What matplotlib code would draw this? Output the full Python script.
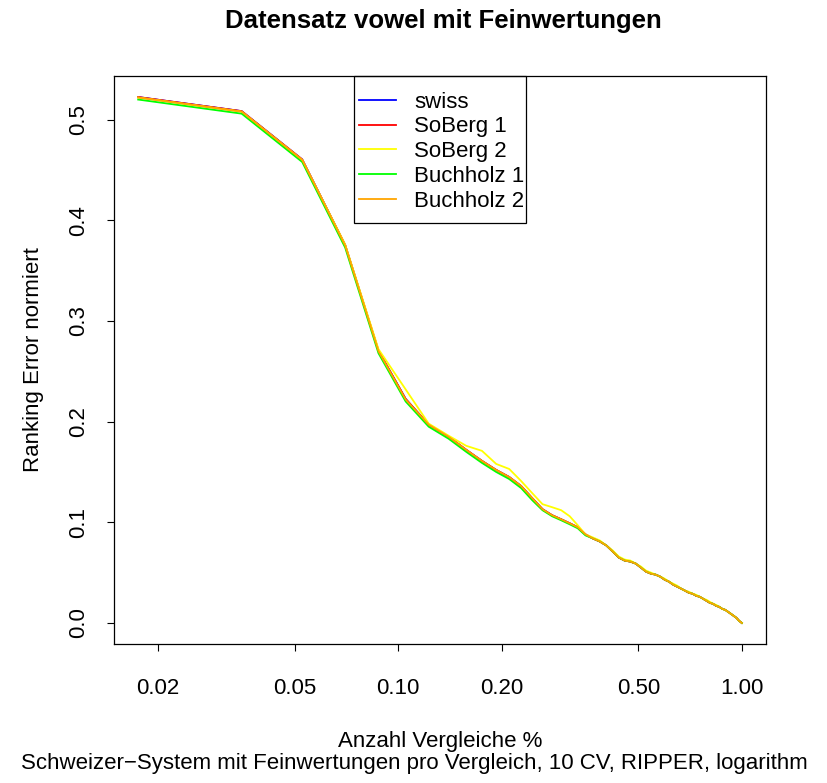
import numpy as np
import matplotlib
matplotlib.use("Agg")
import matplotlib.pyplot as plt
from matplotlib.patches import Rectangle
from matplotlib.ticker import FixedLocator, NullLocator

plt.rcParams['font.family'] = ['Liberation Sans', 'DejaVu Sans']

# share of comparisons: k out of 57
n_comp = 57
steps = np.arange(1, n_comp + 1)

buchholz2 = [0.522, 0.508, 0.460, 0.375, 0.270, 0.222, 0.197, 0.185, 0.172, 0.161,
             0.152, 0.145, 0.136, 0.124, 0.113, 0.107, 0.103, 0.099, 0.095, 0.088,
             0.084, 0.081, 0.077, 0.071, 0.065, 0.062, 0.061, 0.059, 0.055, 0.051,
             0.049, 0.048, 0.046, 0.043, 0.041, 0.038, 0.036, 0.034, 0.032, 0.030,
             0.029, 0.027, 0.026, 0.024, 0.022, 0.020, 0.019, 0.017, 0.016, 0.014,
             0.013, 0.011, 0.009, 0.007, 0.005, 0.002, 0.000]
soberg1 = [0.5225, 0.5085, 0.4605, 0.3755, 0.2705, 0.2225, 0.197, 0.185, 0.172, 0.161,
           0.152, 0.145, 0.136, 0.124, 0.113, 0.107, 0.103, 0.099, 0.095, 0.088,
           0.084, 0.081, 0.077, 0.071, 0.065, 0.062, 0.061, 0.059, 0.055, 0.051,
           0.049, 0.048, 0.046, 0.043, 0.041, 0.038, 0.036, 0.034, 0.032, 0.030,
           0.029, 0.027, 0.026, 0.024, 0.022, 0.020, 0.019, 0.017, 0.016, 0.014,
           0.013, 0.011, 0.009, 0.007, 0.005, 0.002, 0.000]
swiss = list(soberg1)
soberg2 = [0.522, 0.508, 0.460, 0.376, 0.272, 0.232, 0.198, 0.186, 0.176, 0.171,
           0.158, 0.153, 0.141, 0.129, 0.118, 0.115, 0.112, 0.106, 0.097, 0.088,
           0.085, 0.082, 0.077, 0.072, 0.066, 0.063, 0.062, 0.059, 0.056, 0.052,
           0.050, 0.048, 0.046, 0.044, 0.041, 0.039, 0.037, 0.034, 0.032, 0.031,
           0.029, 0.028, 0.026, 0.024, 0.023, 0.021, 0.019, 0.018, 0.016, 0.014,
           0.013, 0.011, 0.009, 0.007, 0.005, 0.002, 0.000]
buchholz1 = [0.520, 0.506, 0.458, 0.373, 0.268, 0.220, 0.195, 0.183, 0.170, 0.159,
             0.150, 0.143, 0.134, 0.122, 0.112, 0.106, 0.102, 0.098, 0.094, 0.087,
             0.084, 0.081, 0.077, 0.071, 0.065, 0.062, 0.061, 0.059, 0.055, 0.051,
             0.049, 0.048, 0.046, 0.043, 0.041, 0.038, 0.036, 0.034, 0.032, 0.030,
             0.029, 0.027, 0.026, 0.024, 0.022, 0.020, 0.019, 0.017, 0.016, 0.014,
             0.013, 0.011, 0.009, 0.007, 0.005, 0.002, 0.000]

series_names = ["swiss", "SoBerg 1", "SoBerg 2", "Buchholz 1", "Buchholz 2"]
series_vals = [swiss, soberg1, soberg2, buchholz1, buchholz2]
series_cols = ["blue", "red", "yellow", "#00ff00", "orange"]

x_ticks = [0.02, 0.05, 0.10, 0.20, 0.50, 1.00]
x_ticklabels = ["0.02", "0.05", "0.10", "0.20", "0.50", "1.00"]
y_ticks = [0.0, 0.1, 0.2, 0.3, 0.4, 0.5]
y_ticklabels = ["0.0", "0.1", "0.2", "0.3", "0.4", "0.5"]

fs = 16
W, H = 828, 783

fig = plt.figure(figsize=(W / 100, H / 100), dpi=100)
ax = fig.add_axes([114 / W, 1 - 644 / H, 652 / W, 568 / H])

x = steps / n_comp
for name, vals, col in zip(series_names, series_vals, series_cols):
    ax.plot(x, vals, color=col, lw=1.3, label=name)

ax.set_xscale("log")
# R-style 4% padding in log space
lx0, lx1 = np.log10(x.min()), np.log10(x.max())
pad = 0.04 * (lx1 - lx0)
ax.set_xlim(10 ** (lx0 - pad), 10 ** (lx1 + pad))
ymax = max(max(v) for v in series_vals)
ax.set_ylim(-0.04 * ymax, ymax * 1.04)

ax.xaxis.set_major_locator(FixedLocator(x_ticks))
ax.xaxis.set_minor_locator(NullLocator())
ax.set_xticklabels(x_ticklabels)
ax.set_yticks(y_ticks)
ax.set_yticklabels(y_ticklabels, rotation=90, va="center")
ax.tick_params(axis="both", direction="out", length=5, width=0.8, labelsize=fs)
ax.tick_params(axis="x", pad=19.5)
ax.tick_params(axis="y", pad=13)
for sp in ax.spines.values():
    sp.set_linewidth(0.9)

# legend entries without frame, box drawn separately (R-style tight box)
leg = ax.legend(loc="upper left", bbox_to_anchor=(344 / W, 1 - 77 / H),
                bbox_transform=fig.transFigure, fontsize=fs, frameon=False,
                borderpad=0.66, labelspacing=0.17, handlelength=1.68,
                handletextpad=0.82, borderaxespad=0)
fig.add_artist(Rectangle((354 / W, 1 - 223 / H), 172 / W, 147 / H,
                         transform=fig.transFigure, fill=False,
                         edgecolor="black", linewidth=0.9, zorder=5))

fig.text(0.535, 1 - 21 / H, "Datensatz vowel mit Feinwertungen",
         ha="center", va="center", fontsize=18.5, fontweight="bold")
fig.text((114 + 766) / 2 / W, 1 - 741 / H, "Anzahl Vergleiche %",
         ha="center", va="center", fontsize=fs)
fig.text(414 / W, 1 - 764 / H,
         "Schweizer\u2212System mit Feinwertungen pro Vergleich, 10 CV, RIPPER, logarithm",
         ha="center", va="center", fontsize=fs)
fig.text(34 / W, 1 - 360 / H, "Ranking Error normiert",
         ha="center", va="center", rotation=90, fontsize=fs)

fig.savefig("out.png", dpi=100)
